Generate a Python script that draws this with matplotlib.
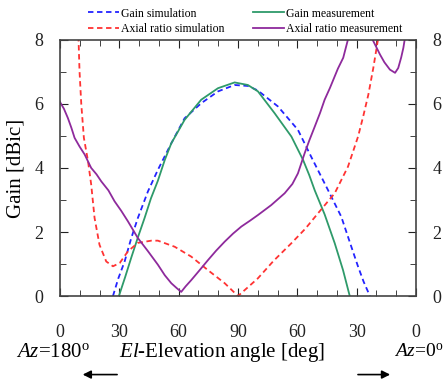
import matplotlib
matplotlib.use("Agg")
import matplotlib.pyplot as plt
import numpy as np

plt.rcParams['font.family'] = ['Liberation Serif', 'DejaVu Serif']
plt.rcParams['mathtext.fontset'] = 'custom'
plt.rcParams['mathtext.rm'] = 'Liberation Serif'
plt.rcParams['mathtext.it'] = 'Liberation Serif:italic'

# x = position along the cut: 0..90 is El from Az=180 side, 90..180 is Az=0 side
gain_sim_x = [26.8, 29.5, 32.7, 36, 39.4, 44.5, 49.5, 56.3, 63, 71.4, 79.9, 88.3, 95, 100, 110.2, 120.3, 127, 135.5, 142.2, 147.3, 150.7, 153.5, 156.7]
gain_sim_y = [0, 0.55, 1.08, 1.8, 2.44, 3.27, 3.94, 4.77, 5.55, 6.02, 6.39, 6.59, 6.56, 6.42, 5.92, 5.19, 4.35, 3.31, 2.48, 1.54, 0.92, 0.45, 0]

gain_meas_x = [29.8, 33, 36, 39.5, 42.8, 46, 49.5, 53, 56.3, 63, 71.4, 79.9, 88.3, 95, 100.1, 108.5, 117, 122.9, 126, 128.8, 133.8, 138.9, 143.1, 146.5]
gain_meas_y = [0, 0.6, 1.19, 1.85, 2.44, 3.05, 3.6, 4.25, 4.77, 5.5, 6.13, 6.49, 6.67, 6.59, 6.39, 5.71, 4.98, 4.25, 3.78, 3.3, 2.55, 1.65, 0.81, 0]

ar_sim_x = [9.2, 9.9, 10.8, 12.1, 14.2, 15.8, 17.5, 20, 23.4, 26.8, 30.2, 34.4, 39.4, 46.2, 49.5, 58, 66.4, 74.8, 83.3, 90, 100, 108, 117, 124, 130.4, 138.9, 145.6, 150.7, 153.3, 155.9, 158.4, 160.9, 161.5]
ar_sim_y = [8.4, 7.02, 5.98, 4.94, 4.21, 3.48, 2.44, 1.6, 1.08, 0.93, 1.03, 1.4, 1.66, 1.73, 1.73, 1.54, 1.23, 0.81, 0.4, 0, 0.55, 1.1, 1.65, 2.1, 2.58, 3.21, 4.04, 4.98, 5.61, 6.29, 7.12, 8.06, 8.4]

ar_meas_x = [0, 0.3, 2, 4, 5.8, 7.4, 10, 12.5, 15, 15.8, 18.5, 20.9, 24.5, 27.6, 31, 34.4, 39.4, 44.5, 49.5, 53, 56.3, 59, 61.3, 63.5, 66.4, 70.5, 74.8, 79, 83.3, 87.5, 91.7, 96, 100.1, 106.8, 113.6, 117.5, 120.3, 123.7, 126, 128.8, 131.5, 133.8, 136.5, 140.5, 143.2, 145.8, 151.5, 157.6, 161.8, 164, 166.8, 169.4, 171, 172.5, 173.6, 174.4, 175]
ar_meas_y = [6.07, 6.03, 5.85, 5.56, 5.25, 4.94, 4.66, 4.42, 4.1, 4.0, 3.8, 3.58, 3.3, 2.96, 2.66, 2.33, 1.81, 1.4, 0.98, 0.65, 0.4, 0.25, 0.13, 0.3, 0.5, 0.8, 1.12, 1.42, 1.7, 1.95, 2.17, 2.35, 2.53, 2.84, 3.21, 3.5, 3.83, 4.46, 4.85, 5.29, 5.72, 6.13, 6.5, 7.1, 7.44, 8.06, 9.0, 8.06, 7.54, 7.3, 7.07, 6.97, 7.12, 7.45, 7.75, 8.06, 8.4]

x_ticks = [0, 30, 60, 90, 120, 150, 180]
x_tick_labels = ['0', '30', '60', '90', '60', '30', '0']
y_ticks = [0, 2, 4, 6, 8]

fig = plt.figure(figsize=(4.44, 3.83), dpi=100)
ax = fig.add_axes([0.135, 0.227, 0.802, 0.669])

l1, = ax.plot(gain_sim_x, gain_sim_y, color='#2323ff', lw=1.3, ls=(0, (3, 2)))
l2, = ax.plot(gain_meas_x, gain_meas_y, color='#2e9a6a', lw=1.3)
l3, = ax.plot(ar_sim_x, ar_sim_y, color='#ff3333', lw=1.3, ls=(0, (3, 2)))
l4, = ax.plot(ar_meas_x, ar_meas_y, color='#8e2a9c', lw=1.3)

ax.set_xlim(0, 180)
ax.set_ylim(0, 8)
ax.set_xticks(x_ticks)
ax.set_xticklabels(x_tick_labels)
ax.set_xticks(np.arange(0, 181, 10), minor=True)
ax.set_yticks(y_ticks)
ax.set_yticks([1, 3, 5, 7], minor=True)
ax.tick_params(which='both', direction='in', top=True, right=True, labelright=True,
               labelsize=13, colors='#222222')
ax.tick_params(axis='x', which='both', pad=20)
ax.tick_params(axis='y', which='both', pad=12)
ax.tick_params(which='major', length=6)
ax.tick_params(which='minor', length=4)
for s in ax.spines.values():
    s.set_color('#444444')
    s.set_linewidth(1.2)

ax.set_ylabel('Gain [dBic]', fontsize=15, labelpad=6)
fig.text(0.5, 0.068, r'$\it{El}$-Elevation angle [deg]', ha='center', fontsize=15)
fig.text(0.12, 0.068, r'$\it{Az}$=180$^{\rm o}$', ha='center', fontsize=15)
fig.text(0.999, 0.068, r'$\it{Az}$=0$^{\rm o}$', ha='right', fontsize=14)
fig.add_artist(matplotlib.patches.FancyArrowPatch((0.27, 0.022), (0.18, 0.022), transform=fig.transFigure,
                                                  arrowstyle='-|>', mutation_scale=12, color='black', lw=1.2))
fig.add_artist(matplotlib.patches.FancyArrowPatch((0.80, 0.022), (0.885, 0.022), transform=fig.transFigure,
                                                  arrowstyle='-|>', mutation_scale=12, color='black', lw=1.2))

fig.legend([l1, l3, l2, l4],
           ['Gain simulation', 'Axial ratio simulation', 'Gain measurement', 'Axial ratio measurement'],
           ncol=2, loc='upper center', bbox_to_anchor=(0.552, 1.008), frameon=False, fontsize=8.5,
           handlelength=2.6, handletextpad=0.2, columnspacing=2.4, labelspacing=0.3)

fig.savefig('out.png', dpi=100)
